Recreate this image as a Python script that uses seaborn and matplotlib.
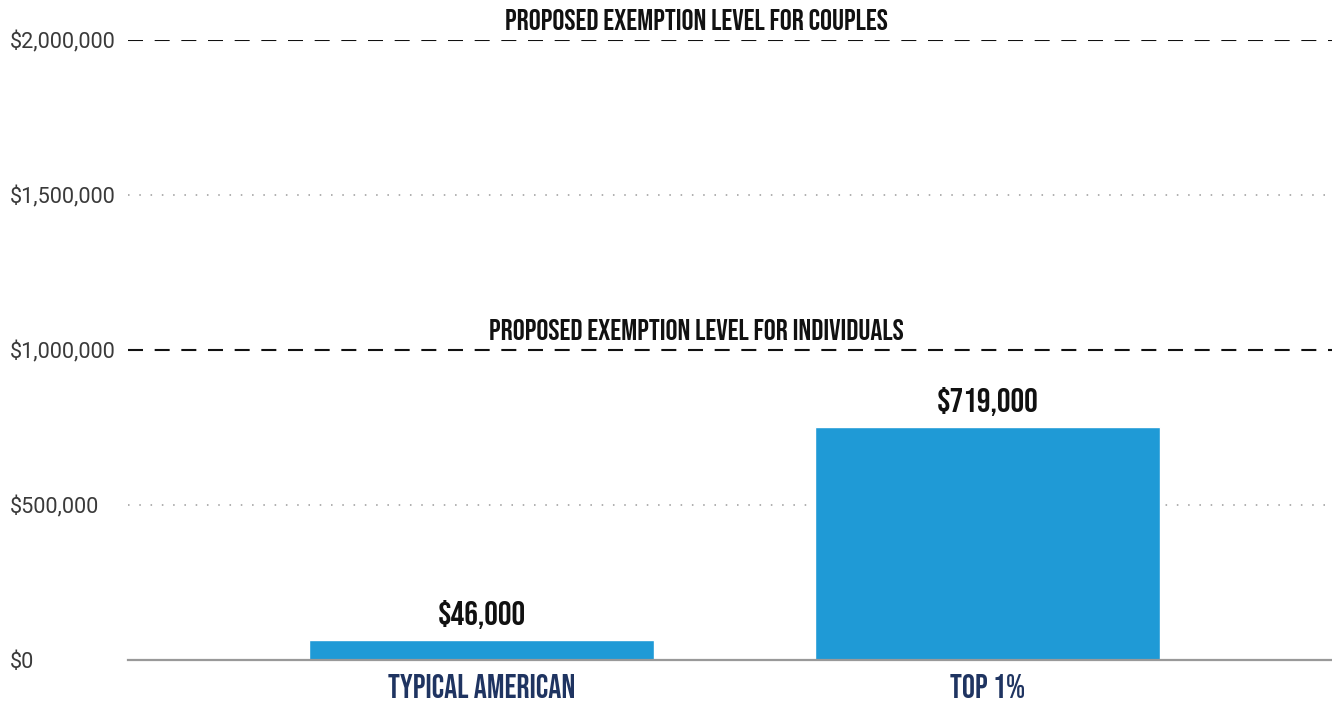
import matplotlib
matplotlib.use("Agg")
import matplotlib.pyplot as plt
import seaborn as sns
from matplotlib.ticker import FuncFormatter

categories = ["TYPICAL AMERICAN", "TOP 1%"]
bar_heights = [65000, 752000]          # bar heights as drawn
value_labels = ["$46,000", "$719,000"]  # labels printed above the bars
ref_levels = [1000000, 2000000]
ref_labels = ["PROPOSED EXEMPTION LEVEL FOR INDIVIDUALS", "PROPOSED EXEMPTION LEVEL FOR COUPLES"]
yticks = [0, 500000, 1000000, 1500000, 2000000]

sns.set_theme(style="white")
cond = ["Bebas Neue", "DejaVu Sans"]
plt.rcParams["font.family"] = ["Roboto", "DejaVu Sans"]

fig = plt.figure(figsize=(13.32, 7.02), dpi=100)
W, H = 1332, 702
ax = fig.add_axes([128 / W, 42 / H, (1332 - 128) / W, (660 - 40) / H])

sns.barplot(x=categories, y=bar_heights, color="#1f9ad6", saturation=1,
            width=0.682, ax=ax)

ax.set_xlim(-0.699, 1.681)
ax.set_ylim(0, 2000000)

# grid (dotted) at non-reference ticks
for t in yticks:
    if t in ref_levels or t == 0:
        continue
    ax.axhline(t, color="#b0b0b0", lw=1.4, ls=(0, (0.8, 5)), zorder=0)

# reference dashed lines
for lvl, lab in zip(ref_levels, ref_labels):
    ax.axhline(lvl, color="#111111", lw=1.5, ls=(0, (7.2, 5.6)), zorder=1)
    ax.annotate(lab, xy=(0.424, lvl), xytext=(0, 14.5), textcoords="offset points",
                ha="center", va="center", fontsize=21.5,
                color="#111111", family=cond, annotation_clip=False)

# value labels
for i, (h, lab) in enumerate(zip(bar_heights, value_labels)):
    ax.annotate(lab, xy=(i, h), xytext=(0, 18), textcoords="offset points",
                ha="center", va="center", fontsize=24.5,
                color="#111111", family=cond)

ax.set_yticks(yticks)
ax.yaxis.set_major_formatter(FuncFormatter(lambda v, p: f"${v:,.0f}"))
ax.tick_params(axis="y", length=0, pad=85, labelsize=15.6, labelcolor="#3a3a3a")
for t in ax.get_yticklabels():
    t.set_horizontalalignment("left")

ax.tick_params(axis="x", length=0, pad=10)
for t in ax.get_xticklabels():
    t.set_family(cond)
    t.set_fontsize(23.5)
    t.set_color("#1f3461")

ax.set_xlabel("")
ax.set_ylabel("")
for s in ["top", "right", "left"]:
    ax.spines[s].set_visible(False)
ax.spines["bottom"].set_color("#999999")
ax.spines["bottom"].set_linewidth(1.6)
ax.spines["bottom"].set_zorder(5)
ax.set_facecolor("white")

fig.savefig("out.png", dpi=100, facecolor="white")
